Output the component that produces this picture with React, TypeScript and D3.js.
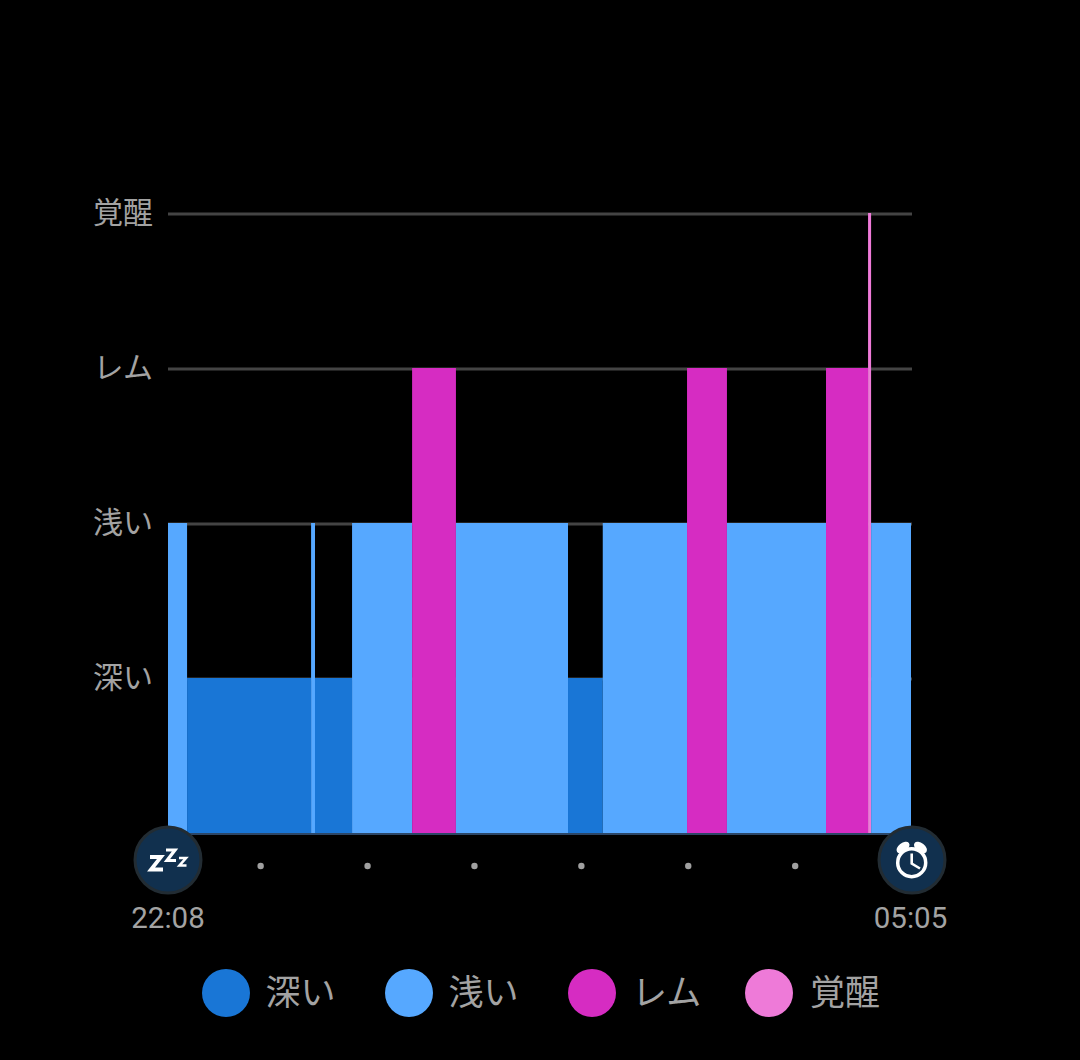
import React from "react";
import * as d3 from "d3";

const stageNames = ["深い", "浅い", "レム", "覚醒"];
const stageColors = ["#1976d6", "#56a8ff", "#d62cc2", "#ee7ad8"];
const startLabel = "22:08";
const endLabel = "05:05";
const totalMinutes = 417;
const hourMarks = [52, 112, 172, 232, 292, 352];
// segment boundaries in minutes after sleep start, and the stage of each segment
const segmentStarts = [0, 10.7, 80.3, 82.5, 103.3, 137, 161.6, 224.5, 244, 291.3, 313.7, 369.3, 392.9, 394.6];
const segmentEnds = [10.7, 80.3, 82.5, 103.3, 137, 161.6, 224.5, 244, 291.3, 313.7, 369.3, 392.9, 394.6, 417];
const segmentStages = [1, 0, 1, 0, 1, 2, 1, 0, 1, 2, 1, 2, 3, 1];
const levels = [1, 2, 3, 4];
const legendX = [226, 409, 592, 769];
const legendTextX = [265.5, 448.5, 632, 810];

const x = d3.scaleLinear().domain([0, totalMinutes]).range([168, 911]);
const y = d3.scaleLinear().domain([0, 4]).range([834, 214]);
const font = "'Noto Sans CJK JP', sans-serif";
const labelColor = "#a3a3a3";

export default function App() {
  return (
    <svg width={1080} height={1060} style={{ position: "fixed", left: 0, top: 0, background: "#000" }}>
      <rect width={1080} height={1060} fill="#000" />
      {levels.map((l, i) => (
        <g key={l}>
          <line x1={168} x2={912} y1={y(l)} y2={y(l)} stroke="#444" strokeWidth={3} />
          <text x={153} y={y(l) + 9} textAnchor="end" fontFamily={font} fontSize={30} fill={labelColor}>{stageNames[i]}</text>
        </g>
      ))}
      {segmentStages.map((s, i) => (
        <rect key={i} x={x(segmentStarts[i])} width={x(segmentEnds[i]) - x(segmentStarts[i])}
          y={y(s + 1) - 1} height={y(0) - y(s + 1) + 1} fill={stageColors[s]} />
      ))}
      <line x1={168} x2={912} y1={y(0)} y2={y(0)} stroke="#2c4666" strokeWidth={2} />
      {hourMarks.map((m) => (
        <circle key={m} cx={x(m)} cy={866} r={3.2} fill="#a0a0a0" />
      ))}
      {/* start icon */}
      <circle cx={168} cy={860} r={33} fill="#11304e" stroke="#222c33" strokeWidth={3} />
      <g fill="none" stroke="#fff" strokeLinejoin="miter">
        <path d="M150 857 H161 L151 869.5 H163" strokeWidth={3.8} />
        <path d="M166 850 H175 L167 860.5 H176" strokeWidth={3.2} />
        <path d="M179 858 H186 L179.5 865.5 H186.5" strokeWidth={2.6} />
      </g>
      {/* end icon */}
      <circle cx={912} cy={860} r={33} fill="#11304e" stroke="#222c33" strokeWidth={3} />
      <g fill="none" stroke="#fff" strokeWidth={3.5}>
        <circle cx={911.7} cy={862.7} r={14} />
        <path d="M911.7 853.5 V863.5 L920 868.5" strokeWidth={2.6} />
      </g>
      <g fill="#fff">
        <ellipse cx={903} cy={847.5} rx={7.5} ry={4.5} transform="rotate(-38 903 847.5)" />
        <ellipse cx={920.5} cy={847.5} rx={7.5} ry={4.5} transform="rotate(38 920.5 847.5)" />
      </g>
      <text x={168} y={928} textAnchor="middle" fontFamily="Roboto, sans-serif" fontSize={29.5} fill={labelColor}>{startLabel}</text>
      <text x={910.5} y={928} textAnchor="middle" fontFamily="Roboto, sans-serif" fontSize={29.5} fill={labelColor}>{endLabel}</text>
      {stageNames.map((n, i) => (
        <g key={n}>
          <circle cx={legendX[i]} cy={993} r={24} fill={stageColors[i]} />
          <text x={legendTextX[i]} y={1005} fontFamily={font} fontSize={35} fill={labelColor}>{n}</text>
        </g>
      ))}
    </svg>
  );
}
